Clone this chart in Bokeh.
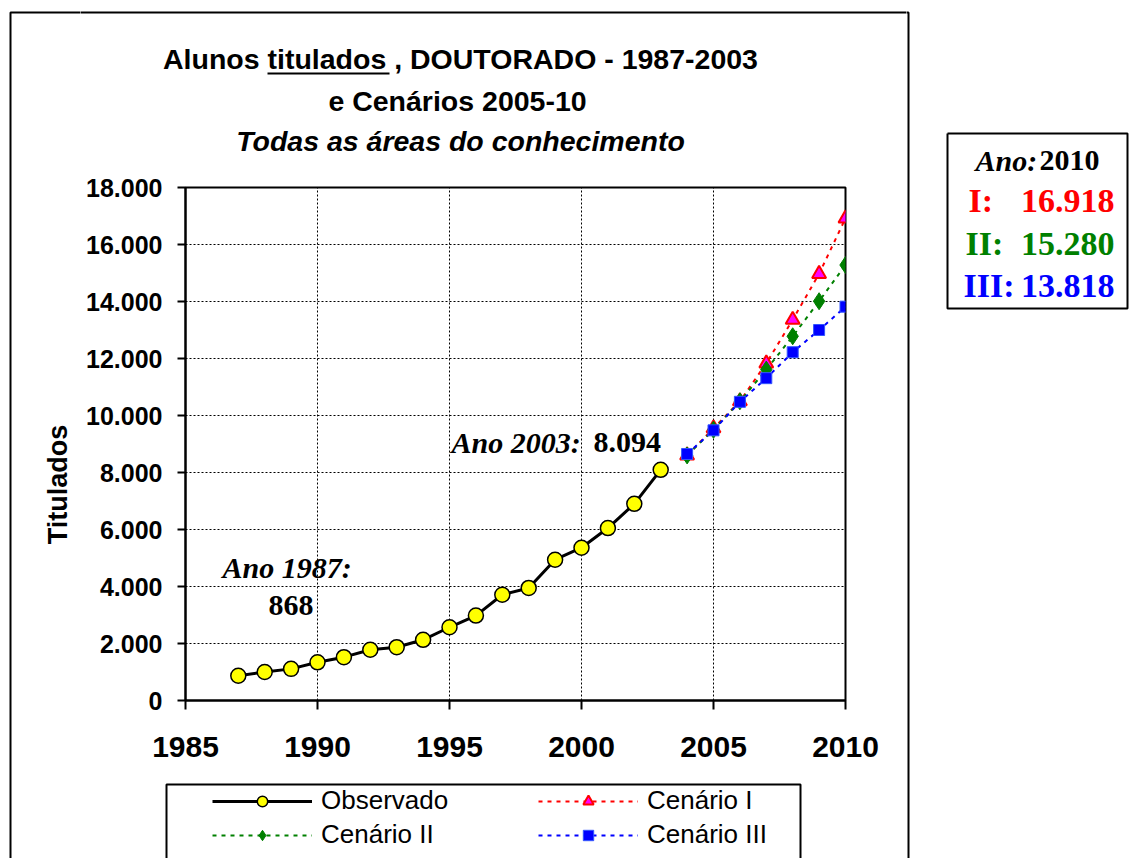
from bokeh.plotting import figure
from bokeh.layouts import row, column
from bokeh.models import Range1d, Label, Legend, LegendItem
from bokeh.embed import file_html
from bokeh.resources import INLINE

# ---------------- data ----------------
years_obs = [1987, 1988, 1989, 1990, 1991, 1992, 1993, 1994, 1995,
             1996, 1997, 1998, 1999, 2000, 2001, 2002, 2003]
observado = [868, 1000, 1110, 1340, 1520, 1780, 1870, 2130, 2570,
             2980, 3710, 3950, 4940, 5360, 6050, 6900, 8094]
years_cen = [2004, 2005, 2006, 2007, 2008, 2009, 2010]
cenario_1 = [8600, 9550, 10500, 11830, 13360, 14970, 16918]
cenario_2 = [8600, 9500, 10500, 11610, 12780, 14010, 15280]
cenario_3 = [8650, 9480, 10480, 11310, 12220, 13000, 13818]

x_ticks = [1985, 1990, 1995, 2000, 2005, 2010]
x_tick_labels = ["1985", "1990", "1995", "2000", "2005", "2010"]
y_ticks = [0, 2000, 4000, 6000, 8000, 10000, 12000, 14000, 16000, 18000]
y_tick_labels = ["0", "2.000", "4.000", "6.000", "8.000", "10.000",
                 "12.000", "14.000", "16.000", "18.000"]
series_names = ["Observado", "Cenário I", "Cenário II", "Cenário III"]
scenario_tags = ["I:", "II:", "III:"]
title_lines = ["Alunos titulados , DOUTORADO - 1987-2003",
               "e Cenários 2005-10",
               "Todas as áreas do conhecimento"]
axis_title = "Titulados"
summary_year = "2010"


def fmt(v):
    return f"{v:,}".replace(",", ".")


GREEN = "#008000"
SANS = "Liberation Sans"
SERIF = "Liberation Serif"

# ---------------- page geometry (px) ----------------
TOTAL_W, TOTAL_H = 1130, 858
AX_W = 80               # left strip holding the y-axis title
LEFT_W = 906            # right edge of the chart column
TOP_H = 160             # title strip
MID_H = 615             # plot row
BOT_H = TOTAL_H - TOP_H - MID_H
F_L, F_T, F_R, F_B = 185, 187, 845, 700   # plot frame in page px
XMIN, XMAX, YMIN, YMAX = 1985, 2010, 0, 18000


def blank(x0, y0, w, h):
    f = figure(width=w, height=h, x_range=Range1d(x0, x0 + w),
               y_range=Range1d(y0 + h, y0), x_axis_type=None,
               y_axis_type=None, min_border=0,
               output_backend="svg", toolbar_location=None)
    f.outline_line_color = None
    f.background_fill_color = "white"
    f.border_fill_color = "white"
    return f


def lab(fig, text, x, y, size, style="bold", font=SERIF, color="black",
        align="left", angle=0.0):
    fig.add_layout(Label(x=x, y=y, text=text, text_font=font,
                         text_font_size=f"{size}px", text_font_style=style,
                         text_color=color, text_align=align,
                         text_baseline="middle", angle=angle))


def poly(fig, xs, ys, width=2):
    fig.line(xs, ys, line_color="black", line_width=width)


# ---------------- main plot ----------------
p = figure(frame_width=F_R - F_L, frame_height=F_B - F_T,
           min_border_left=F_L - AX_W, min_border_top=F_T - TOP_H,
           min_border_right=LEFT_W - F_R, min_border_bottom=TOP_H + MID_H - F_B,
           x_range=Range1d(XMIN, XMAX), y_range=Range1d(YMIN, YMAX),
           output_backend="svg", toolbar_location=None)
p.background_fill_color = "white"
p.border_fill_color = "white"
p.outline_line_color = "black"
p.outline_line_width = 2

p.xaxis.ticker = x_ticks
p.xaxis.major_label_overrides = dict(zip(x_ticks, x_tick_labels))
p.yaxis.ticker = y_ticks
p.yaxis.major_label_overrides = dict(zip(y_ticks, y_tick_labels))
for ax in (p.xaxis, p.yaxis):
    ax.axis_line_color = "black"
    ax.axis_line_width = 2
    ax.major_tick_line_color = "black"
    ax.major_tick_line_width = 2
    ax.major_tick_in = 0
    ax.minor_tick_line_color = None
    ax.major_label_text_font = SANS
    ax.major_label_text_font_style = "bold"
    ax.major_label_text_color = "black"
p.xaxis.major_tick_out = 9
p.xaxis.major_label_standoff = 27
p.xaxis.major_label_text_font_size = "30px"
p.yaxis.major_tick_out = 8
p.yaxis.major_label_standoff = 15
p.yaxis.major_label_text_font_size = "25px"

p.grid.grid_line_color = "black"
p.grid.grid_line_dash = "2 2"
p.grid.grid_line_width = 1


def draw_series(fig):
    l1 = fig.line(years_cen, cenario_1, line_color="red", line_width=2, line_dash="4 5")
    l2 = fig.line(years_cen, cenario_2, line_color=GREEN, line_width=2, line_dash="4 5")
    l3 = fig.line(years_cen, cenario_3, line_color="blue", line_width=2, line_dash="4 5")
    m1 = fig.scatter(years_cen, cenario_1, marker="triangle", size=14,
                     fill_color="#FF00FF", line_color="red", line_width=2)
    m2 = fig.scatter(years_cen, cenario_2, marker="diamond", size=17,
                     fill_color=GREEN, line_color=GREEN, line_width=1)
    m3 = fig.scatter(years_cen, cenario_3, marker="square", size=11,
                     fill_color="blue", line_color="#3355ff", line_width=1)
    lo = fig.line(years_obs, observado, line_color="black", line_width=3)
    mo = fig.scatter(years_obs, observado, marker="circle", size=15,
                     fill_color="#FFFF00", line_color="black", line_width=1.5)
    return [(lo, mo), (l1, m1), (l2, m2), (l3, m3)]


draw_series(p)


def X(px):
    return XMIN + (px - F_L) * (XMAX - XMIN) / (F_R - F_L)


def Y(py):
    return YMIN + (F_B - py) * (YMAX - YMIN) / (F_B - F_T)


lab(p, f"Ano {years_obs[-1]}:", X(451), Y(442), 30, "bold italic")
lab(p, fmt(observado[-1]), X(593), Y(442), 30, "bold")
lab(p, f"Ano {years_obs[0]}:", X(222), Y(567), 30, "bold italic")
lab(p, fmt(observado[0]), X(268), Y(605), 30, "bold")

# ---------------- left strip (y-axis title, outer border) ----------------
left = blank(0, 0, AX_W, TOTAL_H)
poly(left, [10, 10, AX_W + 2], [TOTAL_H + 5, 12, 12])
lab(left, axis_title, 57, 484, 27, "bold", SANS, align="center",
    angle=1.5707963)

# ---------------- title strip ----------------
top = blank(AX_W, 0, LEFT_W - AX_W, TOP_H)
poly(top, [AX_W - 2, LEFT_W + 2], [12, 12])
lab(top, title_lines[0], 460, 58, 28.5, "bold", SANS, align="center")
lab(top, title_lines[1], 457, 100, 28.5, "bold", SANS, align="center")
lab(top, title_lines[2], 460, 140, 28.5, "bold italic", SANS, align="center")
poly(top, [267, 389], [73, 73], width=2)

# ---------------- legend strip ----------------
bot = blank(AX_W, TOP_H + MID_H, LEFT_W - AX_W, BOT_H)
poly(bot, [166, 166, 800, 800], [TOTAL_H + 5, 784, 784, TOTAL_H + 5])
pairs = draw_series(bot)
legend = Legend(items=[LegendItem(label=n, renderers=list(rs))
                       for n, rs in zip(series_names, pairs)],
                location=(212 - AX_W, 8), orientation="horizontal", ncols=2,
                glyph_width=100, glyph_height=26, label_height=26,
                label_width=214, label_standoff=9, spacing=3,
                padding=0, margin=0, border_line_alpha=0,
                background_fill_alpha=0, label_text_font=SANS,
                label_text_font_size="26px", label_text_color="black")
bot.add_layout(legend)

# ---------------- summary strip ----------------
side = blank(LEFT_W, 0, TOTAL_W - LEFT_W, TOTAL_H)
poly(side, [LEFT_W - 2, 908, 908], [12, 12, TOTAL_H + 5])
poly(side, [947, 1127, 1127, 947, 947], [133, 133, 308, 308, 133])
lab(side, "Ano:", 975, 160, 30, "bold italic")
lab(side, summary_year, 1099, 160, 30, "bold", align="right")
colors = ["red", GREEN, "blue"]
finals = [cenario_1[-1], cenario_2[-1], cenario_3[-1]]
tag_x = [968, 965, 963]
mid_y = [200, 243, 285]
for tag, v, c, tx, my in zip(scenario_tags, finals, colors, tag_x, mid_y):
    lab(side, tag, tx, my, 34, "bold", color=c)
    lab(side, fmt(v), 1114, my, 34, "bold", color=c, align="right")

layout = row(left, column(top, row(p), bot), side)
open("out.html", "w").write(file_html(layout, INLINE))
